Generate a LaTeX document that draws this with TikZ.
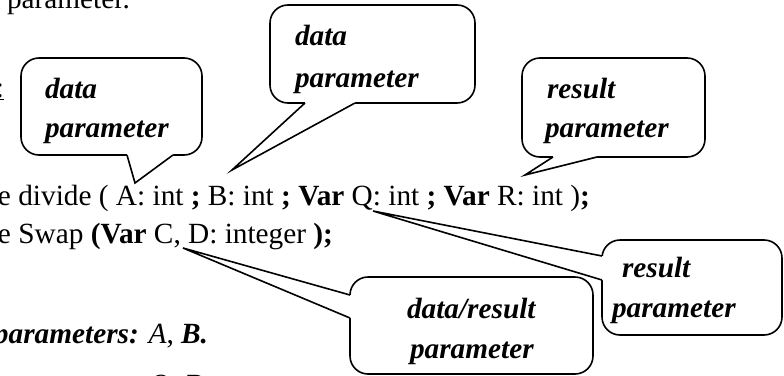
\documentclass[tikz,border=0pt]{standalone}
\usepackage{fontspec}
\setmainfont{Liberation Serif}
\begin{document}
\begin{tikzpicture}[x=1pt,y=-1pt,
  every node/.style={inner sep=0pt, outer sep=0pt},
  txt/.style={anchor=base west, font=\fontsize{29.3}{38}\selectfont},
  note/.style={anchor=base west, font=\fontsize{29.3}{38}\selectfont\bfseries\itshape},
  bubble/.style={draw, line width=1.6pt, rounded corners=18pt, fill=white},
  tail/.style={line width=1.6pt, line join=miter},
  gap/.style={fill=white},
]
\useasboundingbox (0,0) rectangle (784,375);
\clip (0,0) rectangle (784,375);

% running text around the declarations
\node[txt] (top) at (7,8) {parameter.};
\node[txt, anchor=base east] (colon) at (4,97) {\underline{:}};

% the two procedure headings
\node[txt] (divide) at (-2,205)
  {e divide ( A: int \textbf{;} B: int \textbf{; Var} Q: int \textbf{; Var} R: int )\textbf{;}};
\node[txt] (swap) at (-2,243)
  {e Swap \textbf{(Var} C, D: integer \textbf{);}};

% summary lines
\node[txt] (datapar) at (-6,343)
  {\textbf{\textit{parameters:}} \textit{A}, \textbf{\textit{B.}}};
\node[txt] (respar) at (-6,394)
  {\textbf{\textit{parameters:}} \textit{Q}, \textbf{\textit{R.}}};

% callout boxes
\node[bubble, minimum width=181pt, minimum height=97pt] (b1) at (111.5,106.5) {};
\node[bubble, minimum width=205pt, minimum height=98pt] (b2) at (372.5,54) {};
\node[bubble, minimum width=183pt, minimum height=99pt] (b3) at (613.5,107.5) {};
\node[bubble, minimum width=180pt, minimum height=95pt] (b4) at (692,287.5) {};
\node[bubble, minimum width=243pt, minimum height=97pt] (b5) at (471.5,325.5) {};

% tails: tip and the two base points on the box outline
\coordinate (t1) at (135,183);
\coordinate (t1a) at (127,155);  \coordinate (t1b) at (173,155);
\coordinate (t2) at (232,170);
\coordinate (t2a) at (305,103);  \coordinate (t2b) at (355,103);
\coordinate (t3) at (525,175);
\coordinate (t3a) at (553,157);  \coordinate (t3b) at (597,157);
\coordinate (t4) at (373,211);
\coordinate (t4a) at (602,256);  \coordinate (t4b) at (602,280);
\coordinate (t5) at (183,248);
\coordinate (t5a) at (350,295);  \coordinate (t5b) at (350,318);

\fill[gap] ([yshift=2pt]t1a) -- (t1a) -- (t1) -- (t1b) -- ([yshift=2pt]t1b) -- cycle;
\fill[gap] ([yshift=2pt]t2a) -- (t2a) -- (t2) -- (t2b) -- ([yshift=2pt]t2b) -- cycle;
\fill[gap] ([yshift=2pt]t3a) -- (t3a) -- (t3) -- (t3b) -- ([yshift=2pt]t3b) -- cycle;
\fill[gap] ([xshift=2pt]t4a) -- (t4a) -- (t4) -- (t4b) -- ([xshift=2pt]t4b) -- cycle;
\fill[gap] ([xshift=2pt]t5a) -- (t5a) -- (t5) -- (t5b) -- ([xshift=2pt]t5b) -- cycle;

\draw[tail] (t1a) -- (t1) -- (t1b);
\draw[tail] (t2a) -- (t2) -- (t2b);
\draw[tail] (t3a) -- (t3) -- (t3b);
\draw[tail] (t4a) -- (t4) -- (t4b);
\draw[tail] (t5a) -- (t5) -- (t5b);

% callout texts
\node[note] (b1l1) at (45,98) {data};
\node[note] (b1l2) at (45,137) {parameter};
\node[note] (b2l1) at (295,45) {data};
\node[note] (b2l2) at (295,87) {parameter};
\node[note] (b3l1) at (547,98) {result};
\node[note] (b3l2) at (545,137) {parameter};
\node[note] (b4l1) at (622,277) {result};
\node[note] (b4l2) at (612,317) {parameter};
\node[note] (b5l1) at (407,318) {data/result};
\node[note] (b5l2) at (410,358) {parameter};
\end{tikzpicture}
\end{document}
